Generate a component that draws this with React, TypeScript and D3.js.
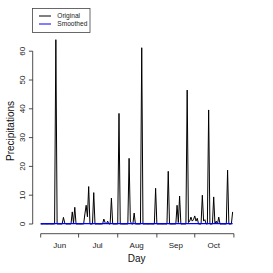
import { useRef, useEffect } from 'react';
import * as d3 from 'd3';

// Daily precipitation, Jun 1 – Oct 31 (day index from Jun 1); days not listed are 0
const RAIN_DAYS = [12, 18, 19, 25, 26, 27, 35, 36, 37, 38, 42, 50, 51, 53, 56, 62, 70, 71, 74, 80, 91, 101, 108, 109, 110, 116, 117, 118, 119, 120, 121, 122, 123, 124, 128, 129, 130, 133, 137, 139, 141, 148, 152];
const RAIN_VALUES = [64, 2.3, 0.4, 4.2, 0.3, 5.8, 3.5, 6.5, 2.5, 13, 10.9, 1.7, 0.5, 1, 9, 38.4, 22.8, 1, 3.8, 61.2, 12.4, 18.3, 6.5, 0.5, 9.7, 46.5, 0.5, 1, 2.4, 1, 1.5, 2.8, 1, 2, 10, 1, 1.5, 39.6, 9.4, 1, 2.4, 18.7, 4.2];

// Smoothed curve knots (day index, value)
const SMOOTH_DAYS = [0, 30, 61, 92, 122, 152];
const SMOOTH_VALUES = [0.1, 0.1, 0.1, 0.1, 0.1, 0.1];

const MONTHS = ['Jun', 'Jul', 'Aug', 'Sep', 'Oct'];
const Y_TICKS = [0, 10, 20, 30, 40, 50, 60];
const N_DAYS = 153;

const FONT = '"Liberation Sans", Arial, Helvetica, sans-serif';

export default function App() {
  const svgRef = useRef<SVGSVGElement>(null);

  useEffect(() => {
    const svg = d3.select(svgRef.current);
    svg.selectAll('*').remove();

    const width = 273;
    const height = 273;
    svg.attr('width', width).attr('height', height);

    const start = new Date(2000, 5, 1);
    const day = (i: number) => d3.timeDay.offset(start, i);

    const x = d3.scaleTime().domain([start, new Date(2000, 10, 1)]).range([40.7, 233.9]);
    const y = d3.scaleLinear().domain([0, 60]).range([224, 51.2]);

    // build daily series from the rain list
    const lookup = new Map<number, number>();
    RAIN_DAYS.forEach((d, i) => lookup.set(d, RAIN_VALUES[i]));
    const original = d3.range(N_DAYS).map((i) => ({ date: day(i), v: lookup.get(i) || 0 }));
    const smoothed = SMOOTH_DAYS.map((d, i) => ({ date: day(d), v: SMOOTH_VALUES[i] }));

    const line = d3.line<{ date: Date; v: number }>()
      .x((d) => x(d.date))
      .y((d) => y(d.v));

    svg.append('path')
      .datum(original)
      .attr('fill', 'none')
      .attr('stroke', '#000')
      .attr('stroke-width', 1)
      .attr('stroke-linejoin', 'round')
      .attr('d', line);

    svg.append('path')
      .datum(smoothed)
      .attr('fill', 'none')
      .attr('stroke', '#0000ff')
      .attr('stroke-width', 1.3)
      .attr('d', line);

    // X axis: ticks at month boundaries, labels mid-month
    const monthStarts = d3.timeMonth.range(start, new Date(2000, 10, 2));
    const xa = svg.append('g').attr('transform', 'translate(0,233.7)');
    xa.append('line')
      .attr('x1', x(monthStarts[0])).attr('x2', x(monthStarts[monthStarts.length - 1]))
      .attr('stroke', '#222').attr('stroke-width', 0.8);
    xa.selectAll('line.tk').data(monthStarts).join('line')
      .attr('class', 'tk')
      .attr('x1', (d) => x(d)).attr('x2', (d) => x(d))
      .attr('y1', 0).attr('y2', 3.8)
      .attr('stroke', '#222').attr('stroke-width', 0.8);
    xa.selectAll('text').data(MONTHS).join('text')
      .attr('x', (_, i) => x(d3.timeDay.offset(monthStarts[i], 15)))
      .attr('y', 14.3)
      .attr('text-anchor', 'middle')
      .attr('font-family', FONT)
      .attr('font-size', 8)
      .attr('fill', '#222')
      .text((d) => d);

    // Y axis
    const ya = svg.append('g').attr('transform', 'translate(32.7,0)');
    ya.append('line')
      .attr('y1', y(0)).attr('y2', y(60))
      .attr('stroke', '#222').attr('stroke-width', 0.8);
    ya.selectAll('line.tk').data(Y_TICKS).join('line')
      .attr('class', 'tk')
      .attr('x1', 0).attr('x2', -3.8)
      .attr('y1', (d) => y(d)).attr('y2', (d) => y(d))
      .attr('stroke', '#222').attr('stroke-width', 0.8);
    ya.selectAll('text').data(Y_TICKS).join('text')
      .attr('transform', (d) => `translate(-7.5,${y(d)}) rotate(-90)`)
      .attr('text-anchor', 'middle')
      .attr('font-family', FONT)
      .attr('font-size', 8)
      .attr('fill', '#222')
      .text((d) => d);

    // Axis titles
    svg.append('text')
      .attr('x', 136.7).attr('y', 261.5)
      .attr('text-anchor', 'middle')
      .attr('font-family', FONT).attr('font-size', 10).attr('fill', '#111')
      .text('Day');
    svg.append('text')
      .attr('transform', 'translate(13.5,131) rotate(-90)')
      .attr('text-anchor', 'middle')
      .attr('font-family', FONT).attr('font-size', 10).attr('fill', '#111')
      .text('Precipitations');

    // Legend
    const lg = svg.append('g');
    lg.append('rect')
      .attr('x', 32.5).attr('y', 8.5).attr('width', 57.5).attr('height', 24)
      .attr('fill', '#fff').attr('stroke', '#444').attr('stroke-width', 0.8);
    [['Original', '#000'], ['Smoothed', '#0000ff']].forEach(([label, col], i) => {
      const yy = 16 + i * 8;
      lg.append('line')
        .attr('x1', 39).attr('x2', 51).attr('y1', yy).attr('y2', yy)
        .attr('stroke', col).attr('stroke-width', 1);
      lg.append('text')
        .attr('x', 57.3).attr('y', yy + 2.4)
        .attr('font-family', FONT).attr('font-size', 6.6).attr('fill', '#222')
        .text(label);
    });
  }, []);

  return <svg ref={svgRef} style={{ position: 'absolute', left: 0, top: 0 }} />;
}
